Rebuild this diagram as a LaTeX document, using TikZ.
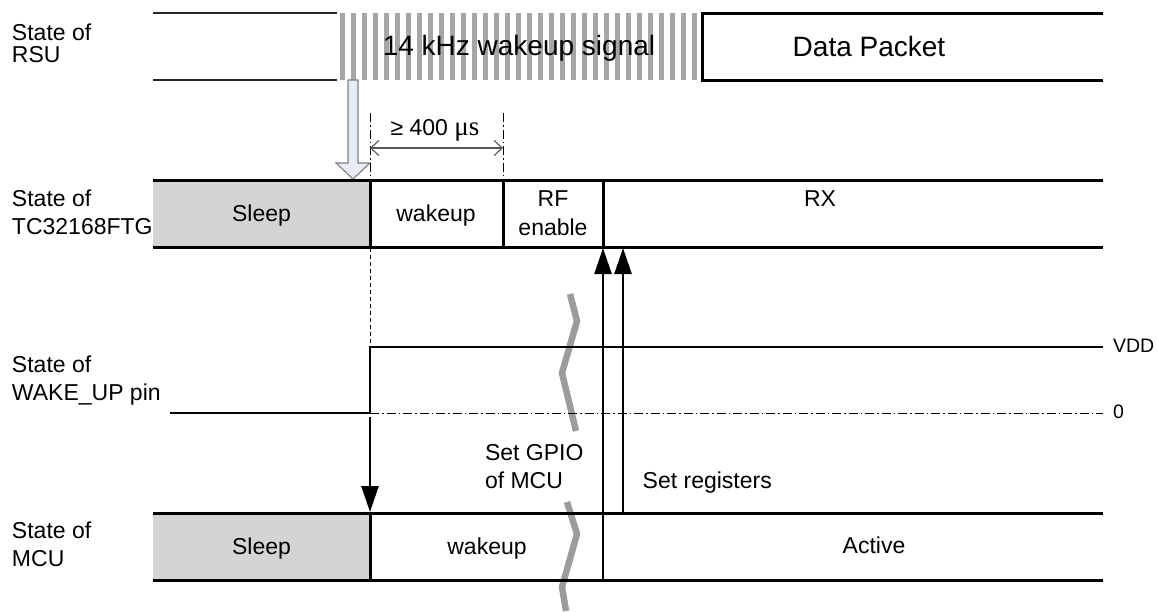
\documentclass[tikz,border=0pt]{standalone}
\usepackage{fontspec}
\setmainfont{Liberation Sans}
\newfontfamily\serifmu{Liberation Serif}
\usetikzlibrary{arrows.meta}

\definecolor{sleepgray}{HTML}{D4D4D4}
\definecolor{stripegray}{HTML}{A6A6A6}
\definecolor{breakgray}{HTML}{9C9C9C}
\definecolor{wakefill}{HTML}{E6ECF6}
\definecolor{wakeedge}{HTML}{7F7F7F}
\definecolor{dimgray}{HTML}{555555}

\begin{document}
\begin{tikzpicture}[x=1pt,y=-1pt,
  every node/.style={inner sep=0pt, outer sep=0pt},
  lbl/.style={anchor=base west, font=\fontsize{23}{28}\selectfont},
  txt/.style={anchor=base, font=\fontsize{23}{28}\selectfont},
  bigtxt/.style={anchor=base, font=\fontsize{28}{33}\selectfont},
  lvl/.style={anchor=base west, font=\fontsize{19.5}{24}\selectfont},
  rail/.style={line width=3pt, line join=miter},
  thinrail/.style={line width=1.2pt, black!85},
  divider/.style={line width=3pt},
  dashdot/.style={line width=0.9pt, dash pattern=on 9pt off 3pt on 1.5pt off 3pt},
  fine dash/.style={line width=0.9pt, dash pattern=on 4pt off 3pt},
  signal/.style={line width=2.6pt},
  trig/.style={line width=2.5pt, -{Triangle[length=26pt,width=17pt]}},
  dimarrow/.style={line width=1.1pt, dimgray, {Straight Barb[length=8pt,width=15pt]}-{Straight Barb[length=8pt,width=15pt]}},
  breakmark/.style={line width=6.5pt, breakgray}
]
\useasboundingbox (0,0) rectangle (1157,611);

% ---------- row labels ----------
\node[lbl] (rsuA) at (12,40) {State of};
\node[lbl] (rsuB) at (12,62) {RSU};
\node[lbl] (tcA) at (12,206.7) {State of};
\node[lbl] (tcB) at (12,234.5) {TC32168FTG};
\node[lbl] (pinA) at (12,372.4) {State of};
\node[lbl] (pinB) at (12,400.7) {WAKE\_UP pin};
\node[lbl] (mcuA) at (12,538.3) {State of};
\node[lbl] (mcuB) at (12,566.7) {MCU};

% ---------- break marks (behind everything) ----------
\draw[breakmark] (570,294) -- (577,321) -- (562,373) -- (576,431);
\draw[breakmark] (567,502) -- (577,534) -- (562,587) -- (566,611);

% ---------- RSU ----------
\draw[thinrail] (153,13) -- (337,13);
\draw[thinrail] (153,80) -- (337,80);
\foreach \k in {0,...,32}
  \fill[stripegray] ({340+11*\k},13) rectangle ++(5.4,67);
\node[bigtxt] (wsig) at (519,55) {14 kHz wakeup signal};
\draw[rail] (1103,13) -- (702,13) -- (702,80) -- (1103,80);
\node[bigtxt] (pkt) at (869,56) {Data Packet};

% wake-up trigger block arrow
\draw[line width=1.1pt, wakeedge, fill=wakefill, line join=miter]
  (348,80) -- (358,80) -- (358,163) -- (370,163) -- (353,179)
  -- (336,163) -- (348,163) -- cycle;

% ---------- TC32168FTG ----------
\fill[sleepgray] (153,180) rectangle (370,247);
\draw[rail] (153,180) -- (1103,180);
\draw[rail] (153,247) -- (1103,247);
\draw[divider] (370,180) -- (370,247);
\draw[divider] (503,180) -- (503,247);
\draw[divider] (603,180) -- (603,247);
\node[txt] (tcsleep) at (261.5,221.5) {Sleep};
\node[txt] (tcwake) at (436,221.5) {wakeup};
\node[txt] (rfA) at (553,206.7) {RF};
\node[txt] (rfB) at (553,235) {enable};
\node[txt] (rx) at (820,206.5) {RX};

% minimum wake-up time
\coordinate (dimL) at (370,148);
\coordinate (dimR) at (503,148);
\draw[dashdot] (370,113) -- (370,180);
\draw[dashdot] (503,113) -- (503,180);
\draw[dimarrow] (dimL) -- (dimR);
\node[txt] (dimlbl) at (435,135) {≥ 400 {\serifmu\fontsize{27}{30}\selectfont μs}};

% ---------- WAKE_UP pin ----------
\draw[fine dash] (370,248) -- (370,347);
\draw[dashdot] (370,413) -- (1103,413);
\draw[signal, line join=miter] (170,413) -- (370,413) -- (370,347) -- (1103,347);
\node[lvl] (vdd) at (1113,352) {VDD};
\node[lvl] (zero) at (1113,418.5) {0};

% ---------- MCU ----------
\fill[sleepgray] (153,513) rectangle (370,580);
\draw[rail] (153,513) -- (1103,513);
\draw[rail] (153,580) -- (1103,580);
\draw[divider] (370,513) -- (370,580);
\node[txt] (mcusleep) at (261.5,554) {Sleep};
\node[txt] (mcuwake) at (487,554) {wakeup};
\node[txt] (active) at (874,553.5) {Active};

% ---------- control arrows ----------
\coordinate (pinEdge) at (370,417);
\coordinate (mcuTop) at (370,512);
\draw[trig] (pinEdge) -- (mcuTop);

\coordinate (gpioFrom) at (603,580);
\coordinate (gpioTo) at (603,248);
\draw[trig] (gpioFrom) -- (gpioTo);
\coordinate (regFrom) at (623,513);
\coordinate (regTo) at (623,248);
\draw[trig] (regFrom) -- (regTo);

\node[lbl] (gpioA) at (485,460) {Set GPIO};
\node[lbl] (gpioB) at (485,488.3) {of MCU};
\node[lbl] (regs) at (642.7,488.3) {Set registers};
\end{tikzpicture}
\end{document}
